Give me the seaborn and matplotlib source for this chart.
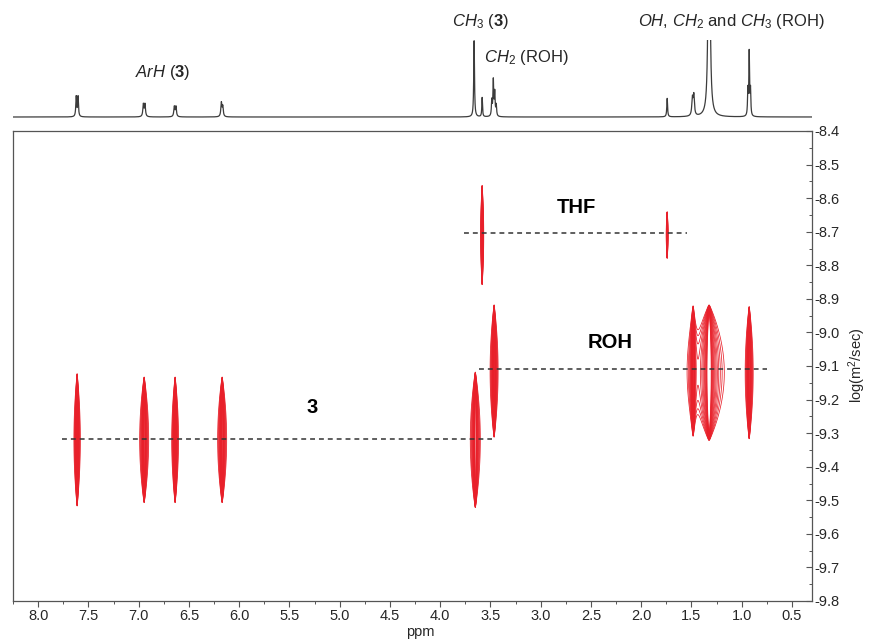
import numpy as np
import pandas as pd
import matplotlib
matplotlib.use("Agg")
import matplotlib.pyplot as plt
from matplotlib.ticker import MultipleLocator, FormatStrFormatter
import seaborn as sns

# ---------------------------------------------------------------
# 1H projection: individual lines (ppm), heights relative to the
# CH3 singlet of 3, and Lorentzian half widths (ppm)
# ---------------------------------------------------------------
line_ppm = [7.621, 7.603, 6.953, 6.937, 6.645, 6.629, 6.177, 6.163,
            3.662, 3.582, 3.486, 3.471, 3.457, 3.442, 1.741,
            1.490, 1.476, 1.324, 0.938, 0.925, 0.912]
line_height = [0.26, 0.26, 0.16, 0.16, 0.13, 0.13, 0.18, 0.13,
               0.99, 0.25, 0.20, 0.46, 0.30, 0.14, 0.24,
               0.22, 0.26, 6.00, 0.33, 0.82, 0.33]
line_hwhm = [0.0050, 0.0050, 0.0060, 0.0060, 0.0060, 0.0060, 0.0060, 0.0060,
             0.0045, 0.0040, 0.0045, 0.0045, 0.0045, 0.0045, 0.0045,
             0.0070, 0.0070, 0.0070, 0.0040, 0.0040, 0.0040]

# ---------------------------------------------------------------
# DOSY cross peaks: chemical shift, log D, relative amplitude,
# outer contour half width (ppm), half extent in log D, grouping
# ---------------------------------------------------------------
peak_ppm = [7.612, 6.945, 6.637, 6.169, 3.650, 3.582, 1.741, 3.463, 1.483, 1.324, 0.925]
peak_logd = [-9.32, -9.32, -9.32, -9.32, -9.32, -8.71, -8.71, -9.115, -9.115, -9.12, -9.12]
peak_amp = [1.0, 1.0, 1.0, 1.0, 1.0, 1.0, 1.0, 1.0, 0.30, 1.0, 1.0]
peak_halfwidth = [0.032, 0.045, 0.034, 0.045, 0.050, 0.016, 0.010, 0.040, 0.080, 0.150, 0.040]
peak_logd_half = [0.200, 0.190, 0.190, 0.190, 0.205, 0.150, 0.070, 0.200, 0.200, 0.205, 0.200]
peak_group = [0, 1, 2, 3, 4, 5, 6, 7, 8, 8, 9]

# Species assignments: dashed guide lines (start ppm, end ppm, log D)
species = ["3", "THF", "ROH"]
species_logd = [-9.317, -8.704, -9.109]
species_start = [7.76, 3.76, 3.61]
species_end = [3.48, 1.54, 0.75]
species_label_ppm = [5.27, 2.64, 2.31]
species_label_logd = [-9.225, -8.628, -9.030]

x_ticks = [8.0, 7.5, 7.0, 6.5, 6.0, 5.5, 5.0, 4.5, 4.0, 3.5, 3.0, 2.5, 2.0, 1.5, 1.0, 0.5]
y_ticks = [-8.4, -8.5, -8.6, -8.7, -8.8, -8.9, -9.0, -9.1, -9.2, -9.3, -9.4, -9.5, -9.6, -9.7, -9.8]

PPM_LIM = (8.25, 0.30)
LOGD_LIM = (-9.8, -8.4)

sns.set_style("white")
plt.rcParams["font.family"] = ["Liberation Sans", "DejaVu Sans"]
plt.rcParams["mathtext.fontset"] = "custom"
plt.rcParams["mathtext.rm"] = "Liberation Sans"
plt.rcParams["mathtext.it"] = "Liberation Sans:italic"
plt.rcParams["mathtext.bf"] = "Liberation Sans:bold"
plt.rcParams["axes.unicode_minus"] = False

RED = "#e8202a"
INK = "#333333"
W, H = 869, 639

fig = plt.figure(figsize=(W / 100, H / 100), dpi=100)

def px_axes(left, top, right, bottom):
    return fig.add_axes([left / W, 1 - bottom / H, (right - left) / W, (bottom - top) / H])

# ---------------- 2D DOSY panel ----------------
ax = px_axes(13, 131, 812, 601)
ax.set_xlim(*PPM_LIM)
ax.set_ylim(*LOGD_LIM)

levels_frac = np.geomspace(0.001, 0.05, 14)
groups = sorted(set(peak_group))
for g in groups:
    idx = [i for i, pg in enumerate(peak_group) if pg == g]
    xc = np.array([peak_ppm[i] for i in idx])
    yc = np.array([peak_logd[i] for i in idx])
    amp = np.array([peak_amp[i] for i in idx])
    hw = np.array([peak_halfwidth[i] for i in idx])
    hh = np.array([peak_logd_half[i] for i in idx])
    # Lorentzian width giving the requested outer contour half width
    w = hw / np.sqrt(1 / levels_frac[0] - 1)
    x = np.linspace(xc.min() - 1.6 * hw.max(), xc.max() + 1.6 * hw.max(), 900)
    y = np.linspace(yc.min() - 1.08 * hh.max(), yc.max() + 1.08 * hh.max(), 500)
    X, Y = np.meshgrid(x, y)
    Z = np.zeros_like(X)
    for a, x0, y0, wi, hi in zip(amp, xc, yc, w, hh):
        fx = 1.0 / (1.0 + ((X - x0) / wi) ** 2)
        gy = np.clip(1.0 - ((Y - y0) / hi) ** 2, 0, None) ** 2
        Z += a * fx * gy
    ax.contour(X, Y, Z, levels=levels_frac * amp.max(), colors=RED, linewidths=0.55)

for name, ld, x0, x1, lx, ly in zip(species, species_logd, species_start, species_end,
                                    species_label_ppm, species_label_logd):
    guide = pd.DataFrame({"ppm": [x0, x1], "logd": [ld, ld]})
    sns.lineplot(data=guide, x="ppm", y="logd", ax=ax, color=INK, lw=1.1,
                 linestyle=(0, (3.2, 2.6)), estimator=None, sort=False)
    ax.text(lx, ly, name, ha="center", va="center", fontsize=14.5,
            fontweight="bold", color="black")

ax.set_xticks(x_ticks)
ax.xaxis.set_minor_locator(MultipleLocator(0.25))
ax.xaxis.set_major_formatter(FormatStrFormatter("%.1f"))
ax.set_yticks(y_ticks)
ax.yaxis.set_minor_locator(MultipleLocator(0.05))
ax.yaxis.set_major_formatter(FormatStrFormatter("%.1f"))
ax.yaxis.tick_right()
ax.tick_params(axis="x", which="major", direction="out", length=4, width=0.8,
               color="#555555", labelsize=10.5, pad=1.5, bottom=True)
ax.tick_params(axis="x", which="minor", direction="out", length=2.5, width=0.7,
               color="#555555", bottom=True)
ax.tick_params(axis="y", which="major", direction="in", length=4, width=0.8,
               color="#555555", labelsize=10.5, pad=2, right=True, left=False)
ax.tick_params(axis="y", which="minor", direction="in", length=2.5, width=0.7,
               color="#555555", right=True, left=False)
for s in ax.spines.values():
    s.set_visible(True)
    s.set_color("#555555")
    s.set_linewidth(0.9)

ax.set_xlabel("ppm", fontsize=10.5)
ax.xaxis.set_label_coords((420 - 13) / 799, -(632 - 601) / 470)
ax.xaxis.label.set_verticalalignment("center")
ax.yaxis.set_label_position("right")
ax.set_ylabel("log(m$^2$/sec)", fontsize=10.5, rotation=90)
ax.yaxis.set_label_coords((857 - 13) / 799, (601 - 365) / 470)
ax.yaxis.label.set_verticalalignment("center")
ax.yaxis.label.set_horizontalalignment("center")

# ---------------- 1D projection ----------------
axs = px_axes(13, 40, 812, 125)
ppm = np.linspace(PPM_LIM[0], PPM_LIM[1], 20000)
spec = np.zeros_like(ppm)
for p0, h0, w0 in zip(line_ppm, line_height, line_hwhm):
    spec += h0 / (1.0 + ((ppm - p0) / w0) ** 2)
sns.lineplot(x=ppm, y=spec, ax=axs, color="#3c3c3c", lw=0.9, estimator=None, sort=False)
axs.set_xlim(*PPM_LIM)
axs.set_ylim(-8 / 77, 1.0)
axs.axis("off")

def spec_y(py):
    return (117 - py) / 77

axs.text(6.76, spec_y(72), r"$ArH$ ($\mathbf{3}$)", ha="center", va="center", fontsize=12)
axs.text(3.60, spec_y(22), r"$CH_3$ ($\mathbf{3}$)", ha="center", va="center", fontsize=12)
axs.text(3.14, spec_y(58), r"$CH_2$ (ROH)", ha="center", va="center", fontsize=12)
axs.text(1.10, spec_y(22), r"$OH$, $CH_2$ and $CH_3$ (ROH)", ha="center", va="center", fontsize=12)

fig.savefig("out.png", dpi=100)
